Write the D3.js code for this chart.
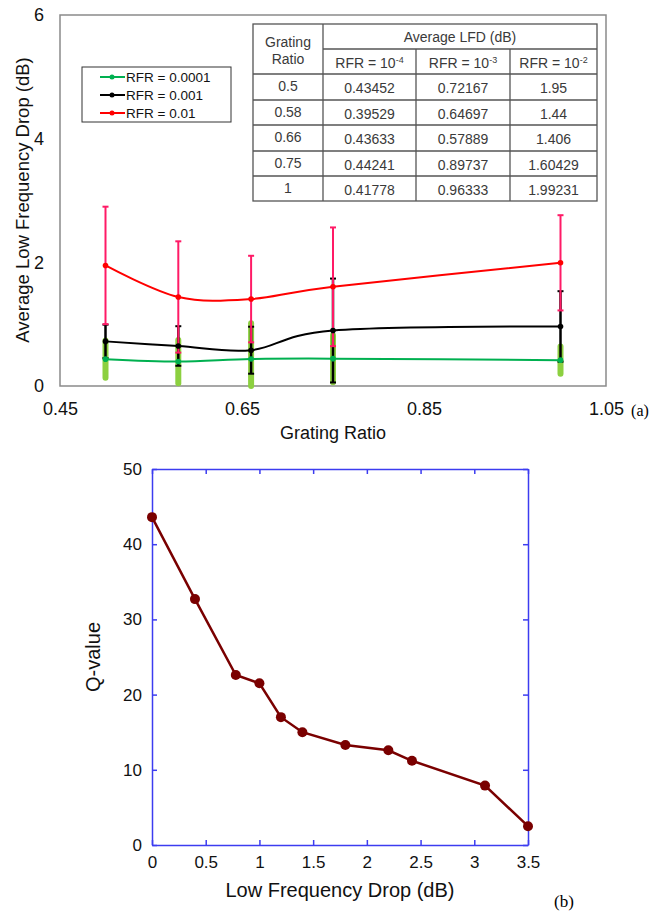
<!DOCTYPE html>
<html>
<head>
<meta charset="utf-8">
<script src="https://cdn.jsdelivr.net/npm/d3@7"></script>
<style>
body { margin: 0; background: #fff; }
svg { display: block; font-family: "Liberation Sans", Arial, sans-serif; }
</style>
</head>
<body>
<div class="canvas"></div>
<script>
// chart (a): average LFD vs grating ratio
var ratios = [0.5, 0.58, 0.66, 0.75, 1];
var lfd_1e4 = [0.43452, 0.39529, 0.43633, 0.44241, 0.41778];
var lfd_1e3 = [0.72167, 0.64697, 0.57889, 0.89737, 0.96333];
var lfd_1e2 = [1.95, 1.44, 1.406, 1.60429, 1.99231];
var err_1e4 = [0.30, 0.35, 0.58, 0.38, 0.22];
var err_1e3 = [0.27, 0.32, 0.38, 0.84, 0.57];
var err_1e2 = [0.95, 0.90, 0.70, 0.96, 0.77];
var legend_names = ['RFR = 0.0001', 'RFR = 0.001', 'RFR = 0.01'];
var table_exps = ['-4', '-3', '-2'];
var ticks_a_x = [0.45, 0.65, 0.85, 1.05];
var ticks_a_y = [0, 2, 4, 6];

// chart (b): Q-value vs low frequency drop
var drop_db = [0, 0.4, 0.78, 1.0, 1.2, 1.4, 1.8, 2.2, 2.42, 3.1, 3.5];
var q_value = [43.6, 32.7, 22.6, 21.5, 17.0, 15.0, 13.3, 12.6, 11.2, 7.9, 2.5];
var ticks_b_x = [0, 0.5, 1, 1.5, 2, 2.5, 3, 3.5];
var ticks_b_y = [0, 10, 20, 30, 40, 50];

var W = 654, H = 914;
var svg = d3.select("div.canvas").append("svg").attr("width", W).attr("height", H);

/* ---------- chart (a) ---------- */
var xa = d3.scaleLinear().domain([0.45, 1.05]).range([60, 606]);
var ya = d3.scaleLinear().domain([0, 6]).range([386, 15]);

var ga = svg.append("g");

var ax = ga.append("g").attr("transform", "translate(0,386)")
	.call(d3.axisBottom(xa).tickValues(ticks_a_x).tickSize(0).tickPadding(16).tickFormat(d3.format(".2f")));
var ay = ga.append("g").attr("transform", "translate(60,0)")
	.call(d3.axisLeft(ya).tickValues(ticks_a_y).tickSize(0).tickPadding(16).tickFormat(d3.format("d")));
[ax, ay].forEach(function(a) {
	a.select(".domain").remove();
	a.selectAll("text").attr("font-size", 18).attr("fill", "#111").attr("font-family", "Liberation Sans, Arial");
});

ga.append("rect").attr("x", 60).attr("y", 15).attr("width", 546).attr("height", 371)
	.attr("fill", "none").attr("stroke", "#8a8a8a").attr("stroke-width", 1.5);

ga.append("text").attr("x", 333).attr("y", 439).attr("text-anchor", "middle")
	.attr("font-size", 18).attr("fill", "#111").text("Grating Ratio");
ga.append("text").attr("transform", "translate(29,200) rotate(-90)").attr("text-anchor", "middle")
	.attr("font-size", 18.5).attr("fill", "#111").text("Average Low Frequency Drop (dB)");
svg.append("text").attr("x", 640).attr("y", 416).attr("text-anchor", "middle")
	.attr("font-family", "Liberation Serif, Times New Roman").attr("font-size", 16).text("(a)");

var series = [
	{vals: lfd_1e4, err: err_1e4, col: "#00b050", ecol: "#8cd040", ew: 6, cap: 0},
	{vals: lfd_1e3, err: err_1e3, col: "#000000", ecol: "#000000", ew: 2.5, cap: 3},
	{vals: lfd_1e2, err: err_1e2, col: "#ff0000", ecol: "#ff1a66", ew: 2, cap: 3}
];

// error bars
series.forEach(function(s) {
	var g = ga.append("g");
	ratios.forEach(function(r, i) {
		var lo = Math.max(0, s.vals[i] - s.err[i]);
		var hi = s.vals[i] + s.err[i];
		g.append("line").attr("x1", xa(r)).attr("x2", xa(r)).attr("y1", ya(lo)).attr("y2", ya(hi))
			.attr("stroke", s.ecol).attr("stroke-width", s.ew).attr("stroke-linecap", s.cap ? "butt" : "round");
		if (s.cap) {
			[lo, hi].forEach(function(v) {
				g.append("line").attr("x1", xa(r) - s.cap).attr("x2", xa(r) + s.cap).attr("y1", ya(v)).attr("y2", ya(v))
					.attr("stroke", s.ecol).attr("stroke-width", 2);
			});
		}
	});
});

// smoothed lines + markers
var line_a = d3.line().curve(d3.curveCardinal.tension(0))
	.x(function(d) { return xa(d[0]); }).y(function(d) { return ya(d[1]); });
series.forEach(function(s) {
	var pts = ratios.map(function(r, i) { return [r, s.vals[i]]; });
	ga.append("path").attr("d", line_a(pts)).attr("fill", "none").attr("stroke", s.col).attr("stroke-width", 2);
	ga.selectAll(null).data(pts).enter().append("circle")
		.attr("cx", function(d) { return xa(d[0]); }).attr("cy", function(d) { return ya(d[1]); })
		.attr("r", 2.8).attr("fill", s.col);
});

// legend
var lg = ga.append("g");
lg.append("rect").attr("x", 82).attr("y", 67).attr("width", 149).attr("height", 55)
	.attr("fill", "#fff").attr("stroke", "#333").attr("stroke-width", 1);
series.forEach(function(s, i) {
	var yy = 77 + i * 18;
	lg.append("line").attr("x1", 100).attr("x2", 125).attr("y1", yy).attr("y2", yy).attr("stroke", s.col).attr("stroke-width", 2);
	lg.append("circle").attr("cx", 112).attr("cy", yy).attr("r", 2.5).attr("fill", s.col);
	lg.append("text").attr("x", 126).attr("y", yy + 5).attr("font-size", 13.5).attr("fill", "#111").text(legend_names[i]);
});

// table
var tb = ga.append("g").attr("font-size", 14).attr("fill", "#3a3a3a");
var col_x = [253, 323, 416, 510, 597];
var row_y = [24, 49, 74, 100, 125, 151, 176, 201];
tb.append("rect").attr("x", 253).attr("y", 24).attr("width", 344).attr("height", 177)
	.attr("fill", "#fff").attr("stroke", "#555").attr("stroke-width", 1.3);
col_x.slice(1, 4).forEach(function(x, i) {
	tb.append("line").attr("x1", x).attr("x2", x).attr("y1", i == 0 ? 24 : 49).attr("y2", 201)
		.attr("stroke", "#555").attr("stroke-width", 1.3);
});
row_y.slice(1, 7).forEach(function(y, i) {
	tb.append("line").attr("x1", i == 0 ? 323 : 253).attr("x2", 597).attr("y1", y).attr("y2", y)
		.attr("stroke", "#555").attr("stroke-width", 1.3);
});
tb.append("text").attr("x", 288).attr("y", 47).attr("text-anchor", "middle").text("Grating");
tb.append("text").attr("x", 288).attr("y", 64).attr("text-anchor", "middle").text("Ratio");
tb.append("text").attr("x", 460).attr("y", 42).attr("text-anchor", "middle").text("Average LFD (dB)");
table_exps.forEach(function(e, i) {
	var t = tb.append("text").attr("x", (col_x[i + 1] + col_x[i + 2]) / 2).attr("y", 68).attr("text-anchor", "middle");
	t.append("tspan").text("RFR = 10");
	t.append("tspan").attr("font-size", 9).attr("dy", -5).text(e);
});
var cols = [lfd_1e4, lfd_1e3, lfd_1e2];
ratios.forEach(function(r, i) {
	var yy = (row_y[i + 2] + row_y[i + 3]) / 2 + 4;
	tb.append("text").attr("x", 288).attr("y", yy).attr("text-anchor", "middle").text(String(r));
	cols.forEach(function(c, j) {
		tb.append("text").attr("x", (col_x[j + 1] + col_x[j + 2]) / 2).attr("y", yy + 2).attr("text-anchor", "middle").text(String(c[i]));
	});
});

/* ---------- chart (b) ---------- */
var xb = d3.scaleLinear().domain([0, 3.5]).range([152, 528]);
var yb = d3.scaleLinear().domain([0, 50]).range([845, 469]);
var blue = "#3c3cf0";
var gb = svg.append("g");

function style_axis(a) {
	a.select(".domain").attr("stroke", blue).attr("stroke-width", 1.5);
	a.selectAll(".tick line").attr("stroke", blue).attr("stroke-width", 1.5);
	a.selectAll("text").attr("font-size", 17).attr("fill", "#111").attr("font-family", "Liberation Sans, Arial");
}
style_axis(gb.append("g").attr("transform", "translate(0,845)")
	.call(d3.axisBottom(xb).tickValues(ticks_b_x).tickSizeInner(-5).tickSizeOuter(0).tickPadding(11).tickFormat(String)));
style_axis(gb.append("g").attr("transform", "translate(152,0)")
	.call(d3.axisLeft(yb).tickValues(ticks_b_y).tickSizeInner(-5).tickSizeOuter(0).tickPadding(10).tickFormat(String)));
style_axis(gb.append("g").attr("transform", "translate(0,469)")
	.call(d3.axisTop(xb).tickValues(ticks_b_x).tickSizeInner(-5).tickSizeOuter(0).tickFormat("")));
style_axis(gb.append("g").attr("transform", "translate(528,0)")
	.call(d3.axisRight(yb).tickValues(ticks_b_y).tickSizeInner(-5).tickSizeOuter(0).tickFormat("")));

var pts_b = drop_db.map(function(d, i) { return [d, q_value[i]]; });
var line_b = d3.line().x(function(d) { return xb(d[0]); }).y(function(d) { return yb(d[1]); });
gb.append("path").attr("d", line_b(pts_b)).attr("fill", "none").attr("stroke", "#7a0000").attr("stroke-width", 2.5);
gb.selectAll(null).data(pts_b).enter().append("circle")
	.attr("cx", function(d) { return xb(d[0]); }).attr("cy", function(d) { return yb(d[1]); })
	.attr("r", 5).attr("fill", "#7a0000");

gb.append("text").attr("x", 340).attr("y", 897).attr("text-anchor", "middle")
	.attr("font-size", 20).attr("fill", "#111").text("Low Frequency Drop (dB)");
gb.append("text").attr("transform", "translate(100,657) rotate(-90)").attr("text-anchor", "middle")
	.attr("font-size", 20).attr("fill", "#111").text("Q-value");
svg.append("text").attr("x", 564).attr("y", 907).attr("text-anchor", "middle")
	.attr("font-family", "Liberation Serif, Times New Roman").attr("font-size", 17).text("(b)");
</script>
</body>
</html>
